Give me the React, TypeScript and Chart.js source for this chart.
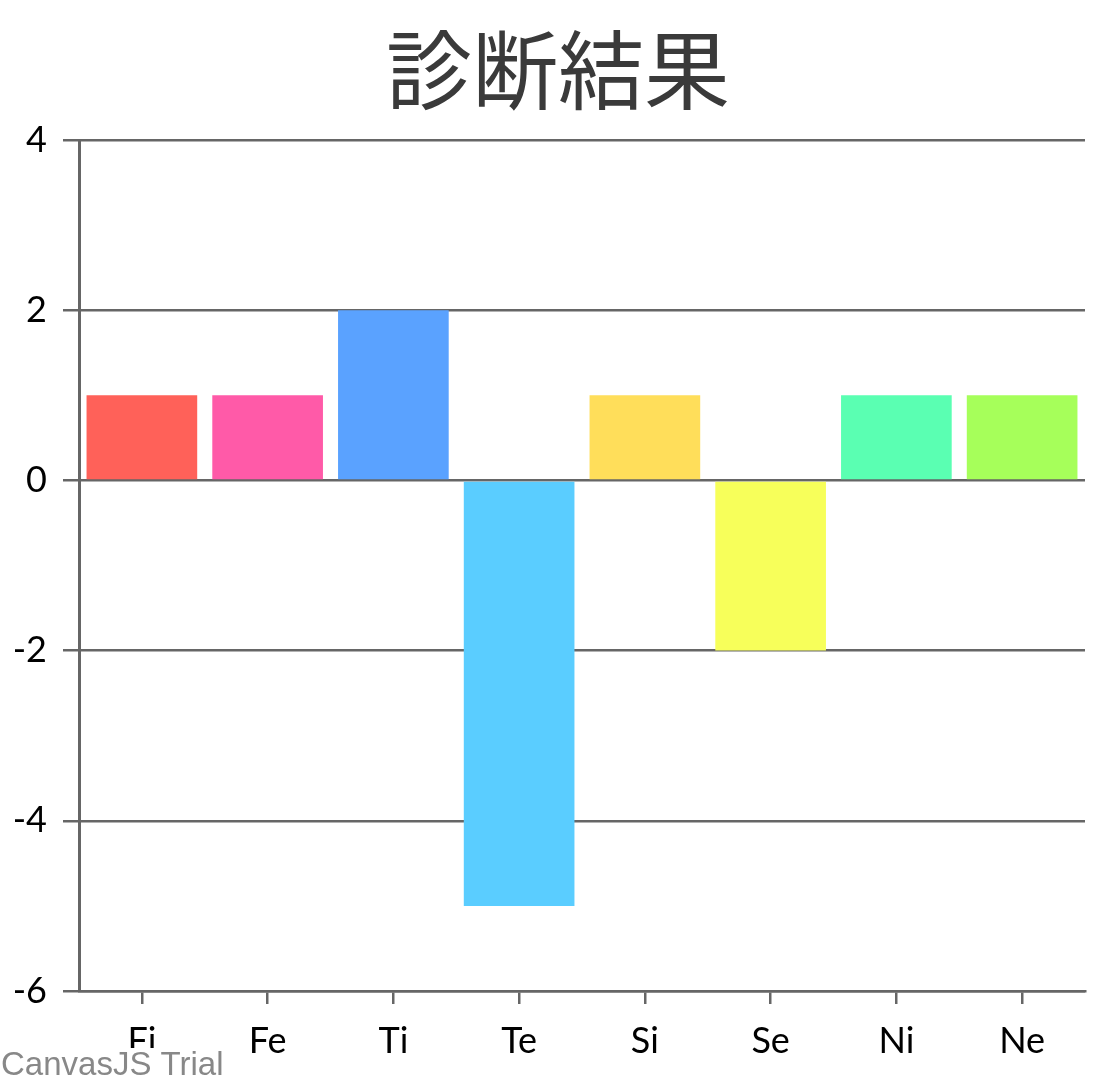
import React, { useEffect, useRef } from "react";
import { Chart, registerables } from "chart.js";

Chart.register(...registerables);

const TITLE = "診断結果";
const categories = ["Fi", "Fe", "Ti", "Te", "Si", "Se", "Ni", "Ne"];
const values = [1, 1, 2, -5, 1, -2, 1, 1];
const barColors = ["#FF6159", "#FF5AA8", "#5AA2FF", "#5ACDFF", "#FFDE5A", "#F7FF5A", "#5AFFB2", "#A6FF5A"];
const yMin = -6;
const yMax = 4;
const yStep = 2;
const WATERMARK = "CanvasJS Trial";

const overlayPlugin = {
  id: "overlay",
  afterDraw(chart: any) {
    const ctx = chart.ctx;
    ctx.save();
    ctx.fillStyle = "#3A3A3A";
    ctx.font = '400 86px "Noto Sans CJK JP"';
    ctx.textAlign = "center";
    ctx.textBaseline = "middle";
    ctx.fillText(TITLE, chart.width / 2, 70);
    ctx.font = '33px "Liberation Sans", Arial, sans-serif';
    ctx.textAlign = "left";
    ctx.textBaseline = "alphabetic";
    const w = ctx.measureText(WATERMARK).width;
    ctx.fillStyle = "#FFFFFF";
    ctx.fillRect(0, 1048, w + 4, 32);
    ctx.fillStyle = "#888888";
    ctx.fillText(WATERMARK, 1, 1075);
    ctx.restore();
  },
};

export default function App() {
  const ref = useRef<HTMLCanvasElement>(null);
  useEffect(() => {
    document.body.style.margin = "0";
    const chart = new Chart(ref.current!, {
      type: "bar",
      data: {
        labels: categories,
        datasets: [
          {
            data: values,
            backgroundColor: barColors,
            borderWidth: 0,
            barPercentage: 0.88,
            categoryPercentage: 1,
          },
        ],
      },
      options: {
        animation: false,
        responsive: false,
        maintainAspectRatio: false,
        layout: { padding: { top: 140, right: 31, left: 0, bottom: 0 } },
        plugins: { legend: { display: false }, title: { display: false }, tooltip: { enabled: false } },
        scales: {
          x: {
            afterFit: (s: any) => {
              s.height = 89;
            },
            grid: {
              display: true,
              drawOnChartArea: false,
              drawTicks: true,
              tickLength: 13,
              offset: false,
              color: "#666666",
              lineWidth: 2.5,
            },
            border: { display: true, color: "#666666", width: 2.5 },
            ticks: { color: "#000000", font: { family: "Lato", size: 36 }, padding: 16, autoSkip: false, maxRotation: 0 },
          },
          y: {
            min: yMin,
            max: yMax,
            afterFit: (s: any) => {
              s.width = 79;
            },
            grid: { color: "#666666", lineWidth: 2.5, drawTicks: true, tickLength: 16 },
            border: { display: true, color: "#666666", width: 3 },
            ticks: { stepSize: yStep, color: "#000000", font: { family: "Lato", size: 36 }, padding: 16 },
          },
        },
      },
      plugins: [overlayPlugin],
    });
    return () => chart.destroy();
  }, []);
  return (
    <div style={{ position: "absolute", left: 0, top: 0, width: 1116, height: 1080, background: "#fff" }}>
      <canvas ref={ref} width={1116} height={1080} style={{ width: 1116, height: 1080, display: "block" }} />
    </div>
  );
}
